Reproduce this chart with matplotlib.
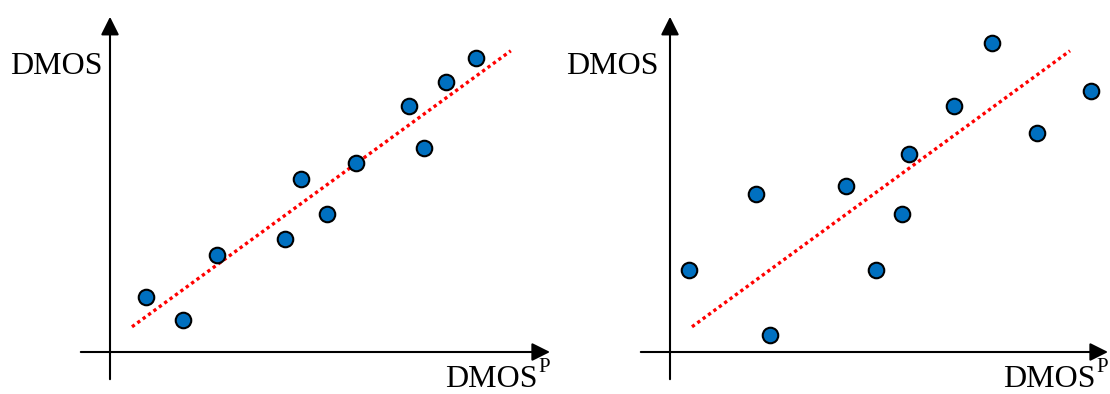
import matplotlib
matplotlib.use("Agg")
import matplotlib.pyplot as plt

plt.rcParams["font.family"] = ["Liberation Serif", "DejaVu Serif"]

# Predicted vs. subjective scores, good fit (left) and poor fit (right)
good_pred = [0.89, 1.82, 2.67, 4.38, 4.77, 5.43, 6.15, 7.48, 7.85, 8.41, 9.16]
good_dmos = [1.38, 0.80, 2.43, 2.82, 4.33, 3.46, 4.72, 6.15, 5.09, 6.76, 7.35]
good_fit_x = [0.55, 10.02]
good_fit_y = [0.63, 7.53]

poor_pred = [0.48, 2.15, 2.49, 4.39, 5.14, 5.79, 5.98, 7.11, 8.05, 9.17, 10.53]
poor_dmos = [2.05, 3.96, 0.43, 4.16, 2.05, 3.46, 4.94, 6.15, 7.73, 5.48, 6.53]
poor_fit_x = [0.55, 10.00]
poor_fit_y = [0.63, 7.53]

y_label = "DMOS"
x_label = "DMOS"
x_label_sup = "P"

fig = plt.figure(figsize=(11.1, 3.94), dpi=100)


def draw_panel(rect, xlim, xs, ys, fit_x, fit_y, x_axis_end, ylabel_x, xlabel_end):
    ax = fig.add_axes(rect)
    ax.set_xlim(*xlim)
    ax.set_ylim(-1.05, 8.8)
    ax.axis("off")

    arrow = dict(arrowstyle="-|>,head_length=1.1,head_width=0.55",
                 color="black", lw=1.5, shrinkA=0, shrinkB=0)
    ax.annotate("", xy=(x_axis_end, 0), xytext=(-0.73, 0), arrowprops=arrow)
    ax.annotate("", xy=(0, 8.38), xytext=(0, -0.68), arrowprops=arrow)

    ax.plot(fit_x, fit_y, color="#FF0000", lw=2.4, linestyle=(0, (1, 1)),
            zorder=2)
    ax.scatter(xs, ys, s=125, color="#0070C0", edgecolor="black",
               linewidth=1.5, zorder=3)

    ax.text(ylabel_x, 6.95, y_label, fontsize=23, ha="left", va="baseline")
    # x label with a raised "P"
    ax.text(xlabel_end, -0.87, x_label, fontsize=23, ha="right", va="baseline")
    ax.text(xlabel_end + 0.03, -0.5, x_label_sup, fontsize=15, ha="left",
            va="baseline")
    return ax


draw_panel([0, 0, 0.5, 1], (-2.75, 11.125), good_pred, good_dmos,
           good_fit_x, good_fit_y, 11.0, -2.5, 10.69)
draw_panel([0.5, 0, 0.5, 1], (-2.875, 11.0), poor_pred, poor_dmos,
           poor_fit_x, poor_fit_y, 10.95, -2.6, 10.64)

fig.savefig("out.png", dpi=100)
